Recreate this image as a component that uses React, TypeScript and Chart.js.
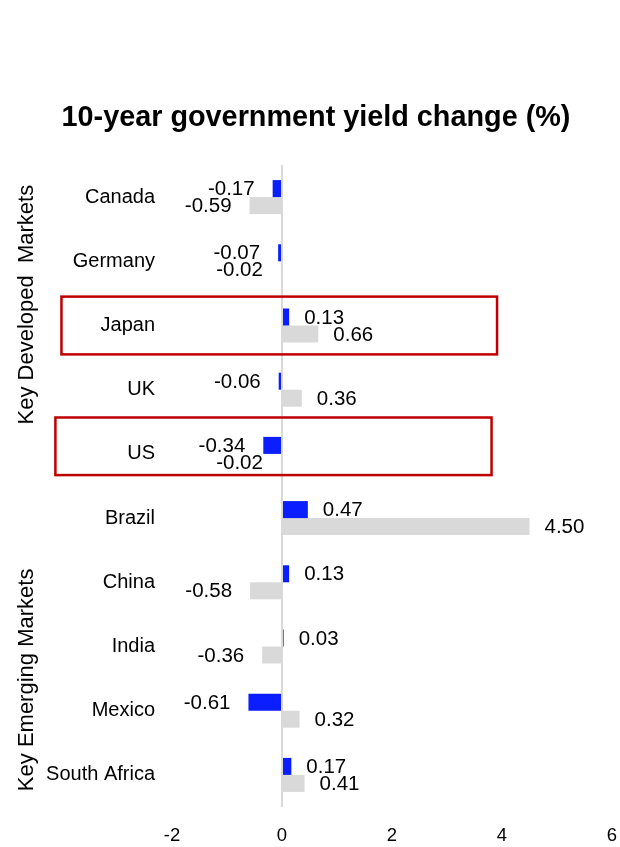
import React, { useEffect, useRef } from 'react';
import { Chart, registerables } from 'chart.js';

Chart.register(...registerables);

const FONT = '"Liberation Sans", Arial, Helvetica, sans-serif';

const chartTitle = '10-year government yield change (%)';
const categories = ['Canada', 'Germany', 'Japan', 'UK', 'US', 'Brazil', 'China', 'India', 'Mexico', 'South Africa'];
const seriesBlue = [-0.17, -0.07, 0.13, -0.06, -0.34, 0.47, 0.13, 0.03, -0.61, 0.17];
const seriesGray = [-0.59, -0.02, 0.66, 0.36, -0.02, 4.5, -0.58, -0.36, 0.32, 0.41];
const xTickValues = [-2, 0, 2, 4, 6];
const groupNames = ['Key Developed  Markets', 'Key Emerging Markets'];
const highlighted = ['Japan', 'US'];

const BLUE = '#0A1EFF';
const GRAY = '#D9D9D9';

const overlayPlugin = {
  id: 'overlay',
  afterDatasetsDraw(chart: any) {
    const ctx = chart.ctx;
    ctx.save();
    ctx.fillStyle = '#000';
    ctx.font = `20.5px ${FONT}`;
    ctx.textBaseline = 'middle';
    chart.data.datasets.forEach((ds: any, di: number) => {
      const meta = chart.getDatasetMeta(di);
      meta.data.forEach((bar: any, i: number) => {
        const v = ds.data[i] as number;
        const { x, y } = bar.getProps(['x', 'y'], true);
        const neg = v < 0;
        ctx.textAlign = neg ? 'right' : 'left';
        ctx.fillText(v.toFixed(2), neg ? x - 18 : x + 15, y + 1);
      });
    });
    ctx.restore();
  },
  afterDraw(chart: any) {
    const ctx = chart.ctx;
    const xs = chart.scales.x;
    const ys = chart.scales.y;
    ctx.save();
    // title
    ctx.fillStyle = '#000';
    ctx.font = `bold 28.8px ${FONT}`;
    ctx.textAlign = 'center';
    ctx.textBaseline = 'alphabetic';
    ctx.fillText(chartTitle, 316, 126);

    // group labels
    ctx.font = `22px ${FONT}`;
    const groupPos = [1.675, 7.52];
    groupNames.forEach((name, gi) => {
      ctx.save();
      ctx.translate(33, ys.getPixelForValue(groupPos[gi]));
      ctx.rotate(-Math.PI / 2);
      ctx.textAlign = 'center';
      ctx.textBaseline = 'alphabetic';
      ctx.fillText(name, 0, 0);
      ctx.restore();
    });

    // highlight boxes
    const boxGeom: Record<string, number[]> = {
      Japan: [-4.01, 3.91, -0.45, 0.45],
      US: [-4.12, 3.81, -0.567, 0.33],
    };
    ctx.strokeStyle = '#C00000';
    ctx.lineWidth = 2.5;
    highlighted.forEach((cat) => {
      const idx = categories.indexOf(cat);
      const g = boxGeom[cat];
      const x0 = xs.getPixelForValue(g[0]);
      const x1 = xs.getPixelForValue(g[1]);
      const y0 = ys.getPixelForValue(idx + g[2]);
      const y1 = ys.getPixelForValue(idx + g[3]);
      ctx.strokeRect(x0, y0, x1 - x0, y1 - y0);
    });
    ctx.restore();
  },
};

export default function App() {
  const canvasRef = useRef<HTMLCanvasElement | null>(null);

  useEffect(() => {
    document.body.style.margin = '0';
    const canvas = canvasRef.current;
    if (!canvas) return;
    const chart = new Chart(canvas, {
      type: 'bar',
      data: {
        labels: categories,
        datasets: [
          {
            label: 'Series 1',
            data: seriesBlue,
            backgroundColor: BLUE,
            borderWidth: 0,
            barPercentage: 1,
            categoryPercentage: 0.53,
          },
          {
            label: 'Series 2',
            data: seriesGray,
            backgroundColor: GRAY,
            borderWidth: 0,
            barPercentage: 1,
            categoryPercentage: 0.53,
          },
        ],
      },
      options: {
        indexAxis: 'y',
        responsive: false,
        animation: false,
        devicePixelRatio: 1,
        layout: { padding: { left: 0, right: 8, top: 165, bottom: 0 } },
        plugins: {
          legend: { display: false },
          tooltip: { enabled: false },
          title: { display: false },
        },
        scales: {
          x: {
            type: 'linear',
            min: -2,
            max: 6,
            afterBuildTicks: (s: any) => {
              s.ticks = xTickValues.map((v) => ({ value: v }));
            },
            ticks: {
              font: { family: FONT, size: 18.5 },
              color: '#000',
              padding: 18,
            },
            grid: {
              drawTicks: false,
              color: (c: any) => (c.tick && c.tick.value === 0 ? GRAY : 'rgba(0,0,0,0)'),
              lineWidth: 2,
            },
            border: { display: false },
            afterFit: (s: any) => {
              s.height = 40;
              s.paddingLeft = 0;
              s.paddingRight = 0;
            },
          },
          y: {
            type: 'category',
            grid: { display: false, drawTicks: false },
            border: { display: false },
            ticks: {
              font: { family: FONT, size: 20 },
              color: '#000',
              padding: 17,
            },
            afterFit: (s: any) => {
              s.width = 172;
              s.paddingTop = 0;
              s.paddingBottom = 0;
            },
          },
        },
      } as any,
      plugins: [overlayPlugin],
    });
    return () => chart.destroy();
  }, []);

  return (
    <div style={{ width: 620, height: 847 }}>
      <canvas ref={canvasRef} width={620} height={847} style={{ display: 'block' }} />
    </div>
  );
}
